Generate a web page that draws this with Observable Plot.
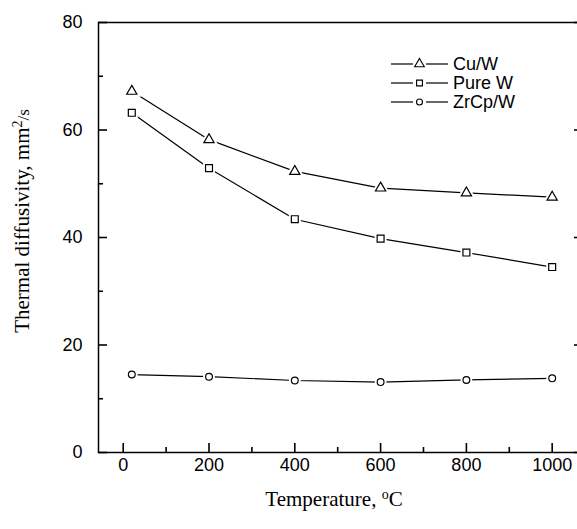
<!DOCTYPE html>
<html><head><meta charset="utf-8">
<script src="https://cdn.jsdelivr.net/npm/d3@7"></script>
<script src="https://cdn.jsdelivr.net/npm/@observablehq/plot@0.6"></script>
<style>
body{margin:0;background:#fff;}
#wrap{width:577px;height:529px;overflow:hidden;background:#fff;}
#wrap svg{max-width:none !important;}
</style></head><body><div id="wrap"></div>
<script>
const temperatures = [20, 200, 400, 600, 800, 1000];
const cuW = [67.2, 58.2, 52.3, 49.2, 48.3, 47.5];
const pureW = [63.2, 52.9, 43.4, 39.8, 37.2, 34.5];
const zrcpW = [14.5, 14.1, 13.4, 13.1, 13.5, 13.8];
const seriesNames = ["Cu/W", "Pure W", "ZrCp/W"];
const seriesSymbols = ["triangle", "square", "circle"];
const xMajorTicks = [0, 200, 400, 600, 800, 1000];
const xMinorTicks = [100, 300, 500, 700, 900];
const yMajorTicks = [0, 20, 40, 60, 80];
const yMinorTicks = [10, 30, 50, 70];

const W = 583, H = 529, ML = 98, MR = 0, MT = 22, MB = 77;
const PW = W - ML - MR, PH = H - MT - MB;
const MAJ = 9, MIN = 5;
const sans = '"Liberation Sans", Arial, sans-serif';
const serif = '"Liberation Serif", "Times New Roman", serif';

const seriesValues = [cuW, pureW, zrcpW];
const markerR = {triangle: 3.8, square: 3.9, circle: 3.4};
const tables = seriesNames.map((name, i) => temperatures.map((t, j) => ({series: name, t, v: seriesValues[i][j]})));

const seriesMarks = tables.flatMap((tbl, i) => {
  const sym = seriesSymbols[i];
  const r = markerR[sym];
  return [
    Plot.line(tbl, {x: "t", y: "v", stroke: "black", strokeWidth: 1.2}),
    Plot.dot(tbl, {x: "t", y: "v", symbol: sym, r, fill: "white", stroke: "white", strokeWidth: 5}),
    Plot.dot(tbl, {x: "t", y: "v", symbol: sym, r, fill: "white", stroke: "black", strokeWidth: 1.2})
  ];
});

const tickStyle = {stroke: "black", strokeWidth: 1.6};
const plot = Plot.plot({
  width: W, height: H,
  marginLeft: ML, marginRight: MR, marginTop: MT, marginBottom: MB,
  x: {domain: [-57.6, 1073], axis: null},
  y: {domain: [0, 80], axis: null},
  style: {fontFamily: sans, fontSize: "18px", color: "black", background: "white"},
  marks: [
    ...seriesMarks,
    Plot.text(xMajorTicks, {x: d => d, frameAnchor: "bottom", lineAnchor: "top", dy: 6, text: d => String(d), fontSize: 18, fill: "black"}),
    Plot.text(yMajorTicks, {y: d => d, frameAnchor: "left", textAnchor: "end", dx: -16, text: d => String(d), fontSize: 18, fill: "black"}),
    Plot.frame({stroke: "black", strokeWidth: 1.5}),
    Plot.ruleX(xMajorTicks, {x: d => d, insetTop: PH - MAJ, ...tickStyle}),
    Plot.ruleX(xMinorTicks, {x: d => d, insetTop: PH - MIN, ...tickStyle}),
    Plot.ruleY(yMajorTicks, {y: d => d, insetRight: PW - MAJ, ...tickStyle}),
    Plot.ruleY(yMinorTicks, {y: d => d, insetRight: PW - MIN, ...tickStyle}),
    Plot.ruleY(yMajorTicks, {y: d => d, insetLeft: PW - MAJ, ...tickStyle}),
    Plot.ruleY(yMinorTicks, {y: d => d, insetLeft: PW - MIN, ...tickStyle})
  ]
});

document.getElementById("wrap").appendChild(plot);
const svg = d3.select(plot);

const xt = svg.append("text").attr("x", 334).attr("y", 506).attr("text-anchor", "middle")
  .attr("font-family", serif).attr("font-size", 21).attr("fill", "black");
xt.append("tspan").text("Temperature, ");
xt.append("tspan").attr("font-size", 14).attr("dy", -7).text("o");
xt.append("tspan").attr("dy", 7).text("C");

const yt = svg.append("text").attr("transform", "translate(29,221) rotate(-90)").attr("text-anchor", "middle")
  .attr("font-family", serif).attr("font-size", 21).attr("fill", "black");
yt.append("tspan").text("Thermal diffusivity, mm");
yt.append("tspan").attr("font-size", 14).attr("dy", -7).text("2");
yt.append("tspan").attr("font-size", 17).attr("dy", 7).text("/s");

const legend = svg.append("g");
const d3sym = {triangle: d3.symbolTriangle, square: d3.symbolSquare, circle: d3.symbolCircle};
const legR = {triangle: 3.6, square: 3.3, circle: 3.0};
seriesNames.forEach((name, i) => {
  const y = 64 + i * 19;
  const g = legend.append("g").attr("transform", `translate(0,${y})`);
  g.append("line").attr("x1", 391).attr("x2", 413).attr("y1", 0).attr("y2", 0).attr("stroke", "black").attr("stroke-width", 1.2);
  g.append("line").attr("x1", 426).attr("x2", 448).attr("y1", 0).attr("y2", 0).attr("stroke", "black").attr("stroke-width", 1.2);
  const sym = seriesSymbols[i];
  g.append("path").attr("transform", "translate(419.5,0)")
    .attr("d", d3.symbol(d3sym[sym], Math.PI * legR[sym] * legR[sym])())
    .attr("fill", "white").attr("stroke", "black").attr("stroke-width", 1.1);
  g.append("text").attr("x", 453).attr("y", 0).attr("dy", "0.35em").attr("text-anchor", "start")
    .attr("font-family", sans).attr("font-size", 18).attr("fill", "black").text(name);
});
</script></body></html>
